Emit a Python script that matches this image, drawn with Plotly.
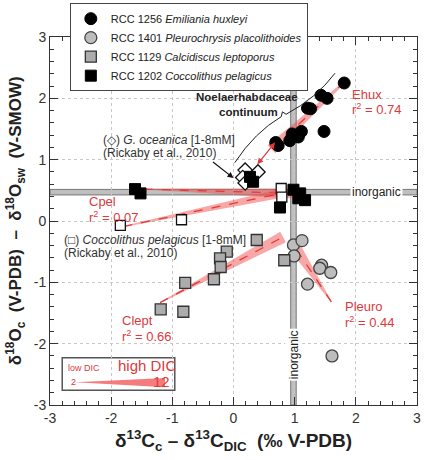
import math
import plotly.graph_objects as go

# ---------------- data ----------------
ehux_x = [1.81, 1.43, 1.53, 1.21, 1.26, 1.48, 1.11, 0.96, 1.06, 0.92, 0.69, 0.73]
ehux_y = [2.25, 2.05, 2.00, 1.84, 1.83, 1.46, 1.46, 1.42, 1.37, 1.31, 1.28, 1.23]

pleuro_x = [0.98, 1.12, 0.99, 1.44, 1.41, 1.59, 1.21, 1.61]
pleuro_y = [-0.39, -0.32, -0.57, -0.72, -0.77, -0.84, -1.03, -2.20]

clept_x = [0.38, -0.11, -0.22, -0.21, -0.32, -0.79, -1.19, -0.82, 0.83]
clept_y = [-0.31, -0.50, -0.61, -0.75, -0.95, -1.01, -1.44, -1.48, -0.64]

cpel_x = [-1.61, -1.52, 0.76, 0.98, 1.09, 1.06, 1.17, 0.27, 0.32]
cpel_y = [0.52, 0.45, 0.22, 0.51, 0.45, 0.37, 0.34, 0.72, 0.64]

rick_cpel_x = [0.78, 0.79, -0.85, -1.85]
rick_cpel_y = [0.53, 0.39, 0.02, -0.07]

goce_x = [0.19, 0.40, 0.15, 0.19]
goce_y = [0.83, 0.80, 0.71, 0.62]

# regression fits: [narrow end, wide end]
ehux_fit_x, ehux_fit_y = [1.82, 0.62], [2.27, 1.17]
cpel_fit_x, cpel_fit_y = [-1.47, 0.98], [0.52, 0.45]
rick_fit_x, rick_fit_y = [-1.80, 0.78], [-0.09, 0.45]
clept_fit_x, clept_fit_y = [-1.20, 0.81], [-1.33, -0.26]
pleuro_fit_x, pleuro_fit_y = [1.60, 1.00], [-1.32, -0.42]

inorganic_o = 0.47
inorganic_c = 0.98

tick_vals = [-3, -2, -1, 0, 1, 2, 3]

RED = "#e0393c"
WEDGE = "rgba(242,80,80,0.5)"
FONT = "Liberation Sans, Arial, sans-serif"
PX = 61.2  # px per data unit (approx)

fig = go.Figure()


def wedge(xs, ys, h0, h1):
    x0, x1 = xs
    y0, y1 = ys
    dx, dy = x1 - x0, y1 - y0
    L = math.hypot(dx, dy)
    nx, ny = -dy / L, dx / L
    h0 /= PX
    h1 /= PX
    px = [x0 + nx * h0, x1 + nx * h1, x1 - nx * h1, x0 - nx * h0, x0 + nx * h0]
    py = [y0 + ny * h0, y1 + ny * h1, y1 - ny * h1, y0 - ny * h0, y0 + ny * h0]
    fig.add_trace(go.Scatter(x=px, y=py, mode="lines", fill="toself",
                             fillcolor=WEDGE, line=dict(width=0),
                             showlegend=False, hoverinfo="skip"))
    fig.add_trace(go.Scatter(x=xs, y=ys, mode="lines",
                             line=dict(color=RED, width=1.3, dash="dash"),
                             showlegend=False, hoverinfo="skip"))


wedge(ehux_fit_x, ehux_fit_y, 1.0, 5.5)
wedge(cpel_fit_x, cpel_fit_y, 0.5, 5.0)
wedge(rick_fit_x, rick_fit_y, 0.5, 4.5)
wedge(clept_fit_x, clept_fit_y, 0.5, 6.0)
wedge(pleuro_fit_x, pleuro_fit_y, 0.5, 6.0)

# DIC legend wedge
fig.add_trace(go.Scatter(x=[-2.59, -1.12, -1.12, -2.59], y=[-2.63, -2.56, -2.71, -2.63],
                         mode="lines", fill="toself", fillcolor="rgba(242,80,80,0.75)",
                         line=dict(width=0), showlegend=False, hoverinfo="skip"))

# markers
fig.add_trace(go.Scatter(x=goce_x, y=goce_y, mode="markers", showlegend=False,
                         marker=dict(symbol="diamond", size=11, color="white",
                                     line=dict(color="#111", width=1.3))))
fig.add_trace(go.Scatter(x=rick_cpel_x, y=rick_cpel_y, mode="markers", showlegend=False,
                         marker=dict(symbol="square", size=10, color="white",
                                     line=dict(color="#111", width=1.3))))
fig.add_trace(go.Scatter(x=ehux_x, y=ehux_y, mode="markers",
                         name="RCC 1256 <i>Emiliania huxleyi</i>",
                         marker=dict(symbol="circle", size=12, color="black",
                                     line=dict(color="black", width=1))))
fig.add_trace(go.Scatter(x=pleuro_x, y=pleuro_y, mode="markers",
                         name="RCC 1401 <i>Pleurochrysis placolithoides</i>",
                         marker=dict(symbol="circle", size=12, color="#bdbdbd",
                                     line=dict(color="#444", width=1.3))))
fig.add_trace(go.Scatter(x=clept_x, y=clept_y, mode="markers",
                         name="RCC 1129 <i>Calcidiscus leptoporus</i>",
                         marker=dict(symbol="square", size=11, color="#acacac",
                                     line=dict(color="#333", width=1.3))))
fig.add_trace(go.Scatter(x=cpel_x, y=cpel_y, mode="markers",
                         name="RCC 1202 <i>Coccolithus pelagicus</i>",
                         marker=dict(symbol="square", size=11, color="black",
                                     line=dict(color="black", width=1))))

shapes = [
    # inorganic bands
    dict(type="rect", xref="paper", yref="y", x0=0, x1=1,
         y0=inorganic_o - 0.045, y1=inorganic_o + 0.045,
         fillcolor="#bfbfbf", line=dict(color="#777", width=1), layer="below"),
    dict(type="rect", xref="x", yref="paper", y0=0, y1=1,
         x0=inorganic_c - 0.045, x1=inorganic_c + 0.045,
         fillcolor="#bfbfbf", line=dict(color="#777", width=1), layer="below"),
    # DIC legend box
    dict(type="rect", xref="x", yref="y", x0=-2.80, x1=-0.96, y0=-2.76, y1=-2.23,
         fillcolor="rgba(255,255,255,0)", line=dict(color="#555", width=1.5), layer="below"),
    # curly brace
    dict(type="path", xref="x", yref="y",
         path="M 0.02 0.95 Q 0.35 1.45 0.78 1.70 L 0.80 1.78 L 0.86 1.74 Q 1.35 2.00 1.66 2.41",
         line=dict(color="#222", width=1)),
]

ann = []


def txt(x, y, s, size=12, color="#222", xanchor="left", **kw):
    ann.append(dict(x=x, y=y, xref="x", yref="y", text=s, showarrow=False,
                    xanchor=xanchor, yanchor="middle",
                    font=dict(size=size, color=color, family=FONT), **kw))


txt(0.22, 2.02, "<b>Noelaerhabdaceae</b>", size=11.5, xanchor="center")
txt(0.24, 1.78, "<b>continuum</b>", size=11.5, xanchor="center")
txt(-2.16, 1.32, "(◇) <i>G. oceanica</i> [1-8mM]", size=12, color="#333")
txt(-2.16, 1.11, "(Rickaby et al., 2010)", size=12, color="#333")
txt(-2.80, -0.31, "(□) <i>Coccolithus pelagicus</i> [1-8mM]", size=12, color="#333")
txt(-2.80, -0.52, "(Rickaby et al., 2010)", size=12, color="#333")

LS = 13
txt(1.90, 2.07, "Ehux", size=LS, color=RED)
txt(1.90, 1.83, "r<sup>2</sup> = 0.74", size=LS, color=RED)
txt(-2.39, 0.31, "Cpel", size=LS, color=RED)
txt(-2.39, 0.07, "r<sup>2</sup> = 0.07", size=LS, color=RED)
txt(-1.85, -1.63, "Clept", size=LS, color=RED)
txt(-1.85, -1.87, "r<sup>2</sup> = 0.66", size=LS, color=RED)
txt(1.79, -1.40, "Pleuro", size=LS, color=RED)
txt(1.79, -1.64, "r<sup>2</sup> = 0.44", size=LS, color=RED)

txt(-2.74, -2.39, "low DIC", size=9, color=RED)
txt(-1.41, -2.36, "high DIC", size=15, color=RED, xanchor="center")
txt(-2.62, -2.63, "2", size=9, color=RED, xanchor="center")
txt(-1.18, -2.62, "12", size=15, color=RED, xanchor="center")

# inorganic labels with white background
txt(2.34, inorganic_o, "inorganic", size=12, color="#222", xanchor="center",
    bgcolor="white")
ann.append(dict(x=inorganic_c, y=-2.18, xref="x", yref="y", text="inorganic",
                showarrow=False, textangle=-90, bgcolor="white",
                font=dict(size=12, color="#222", family=FONT)))

# arrows
ann.append(dict(x=0.0, y=0.70, ax=-0.36, ay=0.98, xref="x", yref="y", axref="x", ayref="y",
                text="", showarrow=True, arrowhead=2, arrowsize=1, arrowwidth=1.2,
                arrowcolor="#111"))
ann.append(dict(x=0.68, y=1.28, ax=0.37, ay=0.90, xref="x", yref="y", axref="x", ayref="y",
                text="", showarrow=True, arrowhead=2, arrowside="end+start", arrowsize=1,
                arrowwidth=1.2, arrowcolor=RED))

# axis titles
ann.append(dict(x=0.5, y=-0.0952, xref="paper", yref="paper", showarrow=False,
                text="<b>δ<sup>13</sup>C<sub>c</sub> – δ<sup>13</sup>C<sub>DIC</sub>  (‰ V-PDB)</b>",
                font=dict(size=19, color="#222", family=FONT), yanchor="middle"))
ann.append(dict(x=-0.095, y=0.5, xref="paper", yref="paper", showarrow=False, textangle=-90,
                text="<b>δ<sup>18</sup>O<sub>c</sub>  (V-PDB)  –  δ<sup>18</sup>O<sub>sw</sub>  (V-SMOW)</b>",
                font=dict(size=17, color="#222", family=FONT), xanchor="center"))

axis_common = dict(
    range=[-3, 3], tickvals=tick_vals, ticktext=[str(v) for v in tick_vals],
    ticks="inside", ticklen=8, tickwidth=1, tickcolor="#333",
    showline=True, linecolor="#333", linewidth=1, mirror="allticks",
    showgrid=True, gridcolor="#c8c8c8", griddash="dot", gridwidth=1,
    zeroline=False, tickfont=dict(size=14, color="#333", family=FONT),
    minor=dict(ticks="inside", dtick=0.2, ticklen=4, tickcolor="#333", showgrid=False),
)

fig.update_layout(
    width=436, height=460,
    margin=dict(l=50, r=19, t=37, b=55, autoexpand=False),
    paper_bgcolor="white", plot_bgcolor="white",
    xaxis=axis_common, yaxis=axis_common,
    shapes=shapes, annotations=ann,
    showlegend=True,
    legend=dict(x=0.054, y=1.092, xanchor="left", yanchor="top", xref="paper", yref="paper",
                bgcolor="white", bordercolor="#444", borderwidth=1,
                font=dict(size=11, color="#222", family=FONT), tracegroupgap=0,
                itemwidth=30),
    font=dict(family=FONT),
)

fig.write_html("out.html")
